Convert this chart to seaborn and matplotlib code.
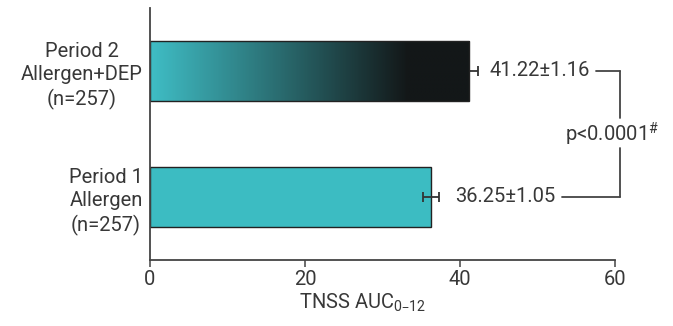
import numpy as np
import pandas as pd
import matplotlib
matplotlib.use("Agg")
import matplotlib.pyplot as plt
from matplotlib.colors import LinearSegmentedColormap
import seaborn as sns

groups = ["Period 2\nAllergen+DEP\n(n=257)", "Period 1\nAllergen\n(n=257)"]
means = [41.22, 36.25]
sems = [1.16, 1.05]
value_labels = ["41.22\u00b11.16", "36.25\u00b11.05"]
p_label = "p<0.0001$^{\\#}$"
xticks = [0, 20, 40, 60]

sns.set_style("white")
plt.rcParams["font.family"] = ["Roboto", "DejaVu Sans"]
plt.rcParams["mathtext.default"] = "regular"
txt = "#383838"
cyan = "#3cbcc2"
fs = 14.5

df = pd.DataFrame({"group": groups, "mean": means})

fig = plt.figure(figsize=(6.73, 3.26), dpi=100)
ax = fig.add_axes([150 / 673, 66 / 326, 465 / 673, 252 / 326])

sns.barplot(data=df, x="mean", y="group", orient="h", color=cyan, width=0.476,
            saturation=1, edgecolor="#222222", linewidth=1, ax=ax, zorder=2)

# gradient fill for the DEP bar
grad = LinearSegmentedColormap.from_list("g", [(0, "#3fbdc5"), (0.5, "#2a6c70"), (1, "#131718")])
top_bar = ax.patches[0]
bx, by = top_bar.get_x(), top_bar.get_y()
bw, bh = top_bar.get_width(), top_bar.get_height()
xs = np.linspace(0, bw, 400)
vals = np.clip(xs / 33.3, 0, 1)[None, :]
im = ax.imshow(vals, cmap=grad, vmin=0, vmax=1, aspect="auto",
               extent=[bx, bx + bw, by + bh, by], zorder=2.1, interpolation="bilinear")
im.set_clip_path(top_bar)
top_bar.set_facecolor("none")
top_bar.set_zorder(2.2)

# error bars (the one on the dark bar sits behind it, as in the original)
err_z = [2.05, 3]
for i, (m, s) in enumerate(zip(means, sems)):
    ax.errorbar([m], [i], xerr=[s], fmt="none", ecolor="#333333", elinewidth=1.3,
                capsize=3.5, capthick=1.3, zorder=err_z[i])

# value labels
offsets = [1.45, 2.05]
for i, (m, s, lab) in enumerate(zip(means, sems, value_labels)):
    ax.text(m + s + offsets[i], i, lab, ha="left", va="center", fontsize=fs, color=txt)

# significance bracket
bx_v = 60.6
line_kw = dict(color="#444444", lw=1.3, clip_on=False, zorder=3)
ax.plot([57.5, bx_v], [0, 0], **line_kw)
ax.plot([53.2, bx_v], [1, 1], **line_kw)
ax.plot([bx_v, bx_v], [0, 0.37], **line_kw)
ax.plot([bx_v, bx_v], [0.61, 1], **line_kw)
ax.text(59.6, 0.5, p_label, ha="center", va="center", fontsize=fs, color=txt)

ax.set_xlim(0, 60)
ax.set_ylim(1.5, -0.5)
ax.set_xticks(xticks)
ax.set_xlabel("TNSS AUC$_{0\u201312}$", fontsize=fs, color=txt)
ax.xaxis.set_label_coords(0.458, -0.125)
ax.set_ylabel("")
for lab in ax.get_yticklabels():
    lab.set_multialignment("center")
    lab.set_linespacing(1.3)

ax.tick_params(axis="x", length=5, width=1.1, color="#444444", labelsize=fs,
               labelcolor=txt, pad=2, bottom=True)
ax.tick_params(axis="y", length=0, labelsize=fs, labelcolor=txt, pad=5)
sns.despine(ax=ax)
for side in ["left", "bottom"]:
    ax.spines[side].set_color("#444444")
    ax.spines[side].set_linewidth(1.3)

fig.savefig("out.png", dpi=100)
